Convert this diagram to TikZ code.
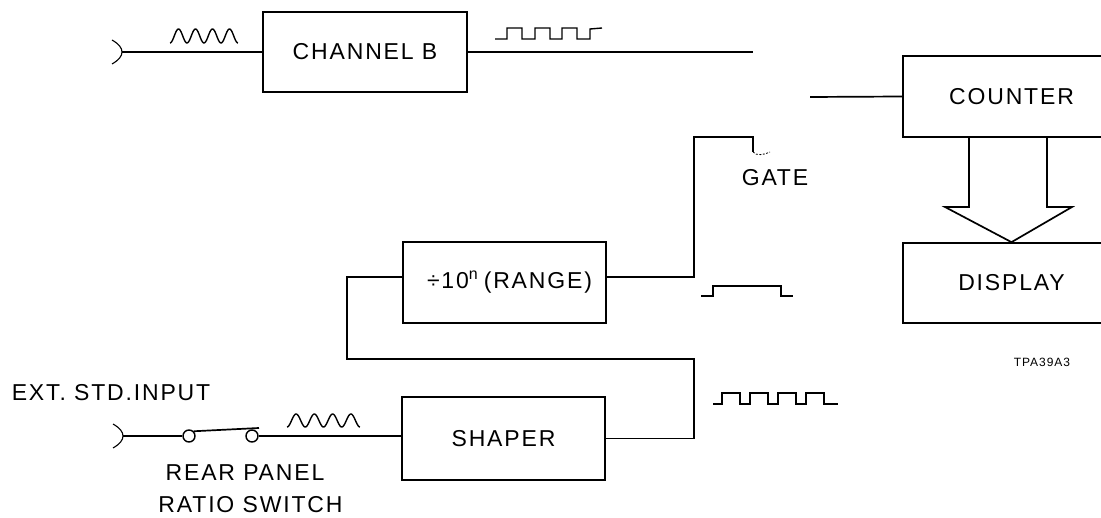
\documentclass[tikz,border=0pt]{standalone}
\usepackage{fontspec}
\setmainfont{Liberation Sans}[LetterSpace=8]
\usetikzlibrary{calc}
\begin{document}
\begin{tikzpicture}[x=1pt,y=-1pt,line width=1.7pt,
  blk/.style={draw,rectangle,inner sep=0pt,align=center,font=\fontsize{23}{27}\selectfont},
  lbl/.style={inner sep=0pt,font=\fontsize{23}{27}\selectfont},
  tiny/.style={inner sep=0pt,font=\fontsize{12}{14}\selectfont},
  wave/.style={line width=1.4pt},
  sw/.style={draw,circle,inner sep=0pt,minimum size=12pt,line width=1.4pt,fill=white}]
\useasboundingbox (0,0) rectangle (1101,518);
\clip (0,0) rectangle (1101,518);

% blocks
\node[blk,minimum width=204pt,minimum height=80pt] (chb) at (365,52) {CHANNEL B};
\node[blk,minimum width=203pt,minimum height=81pt] (div) at (504.5,282.5)
  {\hspace*{10pt}÷10\raisebox{9pt}{\fontsize{16}{16}\selectfont n}\hspace{6pt}(RANGE)};
\node[blk,minimum width=203pt,minimum height=83pt] (shp) at (503.5,438.5) {SHAPER};
\node[blk,minimum width=217pt,minimum height=81pt] (cnt) at (1011.5,96.5) {COUNTER};
\node[blk,minimum width=217pt,minimum height=80pt] (dsp) at (1011.5,283) {DISPLAY};

% coordinates
\coordinate (in1) at (122,52);
\coordinate (chbend) at (753,52);
\coordinate (cntin) at (810,97);
\coordinate (gtop) at (694,137);
\coordinate (gend) at (753,152);
\coordinate (fbtop) at (694,359);
\coordinate (fbleft) at (347,359);
\coordinate (in2) at (123,436);

% channel B path
\draw[line width=1.1pt] (112,40) .. controls (119,44) and (122,48) .. (in1)
  .. controls (122,56) and (119,60) .. (112,64);
\draw (in1) -- (chb.west);
\draw (chb.east) -- (chbend);
\draw (cntin) -- (cnt.west);

% gate path
\draw ([yshift=5.5pt]div.east) -| (gtop) -| (gend);
\draw[line width=0.8pt,dash pattern=on 2pt off 1.5pt] (gend) .. controls (756,156) and (764,155) .. (770,152);

% feedback loop
\draw (shp.east) -| (fbtop) -- (fbleft) |- ([yshift=5.5pt]div.west);

% ext std input
\draw[line width=1.1pt] (113,424) .. controls (120,428) and (123,432) .. (in2)
  .. controls (123,440) and (120,444) .. (113,448);
\node[sw] (s1) at (189,436) {};
\node[sw] (s2) at (252,436) {};
\draw (in2) -- (s1.west);
\draw (s1.north east) -- (259,428);
\draw (s2.east) -- (s2.east -| shp.west);

% counter -> display arrow
\draw (969,137) -- (969,207) -- (945,207) -- (dsp.north) -- (1072,207) -- (1047,207) -- (1047,137);

% waveforms
\draw[wave] plot[domain=0:4,samples=120] ({170+17*\x},{36+7*cos(360*\x)});
\draw[wave] plot[domain=0:4,samples=120] ({287+18.25*\x},{420.5+6.5*cos(360*\x)});
\draw[wave] (495,39) -- (507,39) -- (507,28) -- (522,28) -- (522,39) -- (535,39) -- (535,28)
  -- (550,28) -- (550,39) -- (562,39) -- (562,28) -- (577,28) -- (577,39) -- (590,39)
  -- (590,29) -- (602,28);
\draw[wave] (701,296) -- (713,296) -- (713,286) -- (781,286) -- (781,296) -- (793,296);
\draw[wave] (713,404) -- (722,404) -- (722,393) -- (740,393) -- (740,404) -- (750,404)
  -- (750,393) -- (768,393) -- (768,404) -- (778,404) -- (778,393) -- (796,393)
  -- (796,404) -- (806,404) -- (806,393) -- (824,393) -- (824,404) -- (838,404);

% labels
\node[lbl] (gate) at (775,178) {GATE};
\node[lbl] (ext) at (111,393) {EXT. STD.INPUT};
\node[lbl] (rear) at (245,473) {REAR PANEL};
\node[lbl] (ratio) at (250.5,505) {RATIO SWITCH};
\node[tiny] (tpa) at (1042,362) {TPA39A3};
\end{tikzpicture}
\end{document}
